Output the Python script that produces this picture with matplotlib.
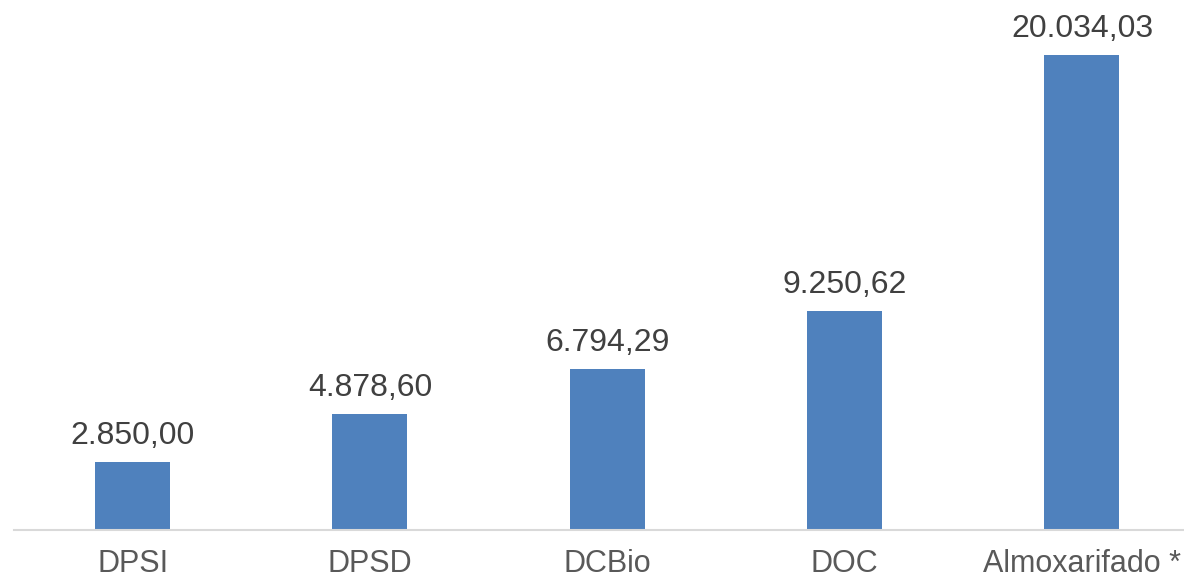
import matplotlib
matplotlib.use("Agg")
import matplotlib.pyplot as plt

categorias = ['DPSI', 'DPSD', 'DCBio', 'DOC', 'Almoxarifado *']
valores = [2850.00, 4878.60, 6794.29, 9250.62, 20034.03]
rotulos = ['2.850,00', '4.878,60', '6.794,29', '9.250,62', '20.034,03']

plt.rcParams['font.family'] = ['Liberation Sans', 'DejaVu Sans']

fig = plt.figure(figsize=(11.84, 5.81), dpi=100)
ax = fig.add_axes([14 / 1184, 51 / 581, 1186.6 / 1184, 530 / 581])

x = range(len(categorias))
barras = ax.bar(x, valores, width=0.316, color='#4F81BD', zorder=2)

# rótulos de valor acima das barras
for b, r in zip(barras, rotulos):
    ax.annotate(r, (b.get_x() + b.get_width() / 2, b.get_height()),
                xytext=(0, 13), textcoords='offset points',
                ha='center', va='baseline', fontsize=23, color='#404040')

ax.set_xlim(-0.5, 4.5)
ax.set_ylim(0, 22353)
ax.set_xticks(list(x))
ax.set_xticklabels(categorias, fontsize=22, color='#595959')
ax.tick_params(axis='x', length=0, pad=14)
ax.set_yticks([])
for s in ['top', 'right', 'left']:
    ax.spines[s].set_visible(False)
ax.spines['bottom'].set_color('#D9D9D9')
ax.spines['bottom'].set_linewidth(1.5)

fig.savefig('out.png', dpi=100)
